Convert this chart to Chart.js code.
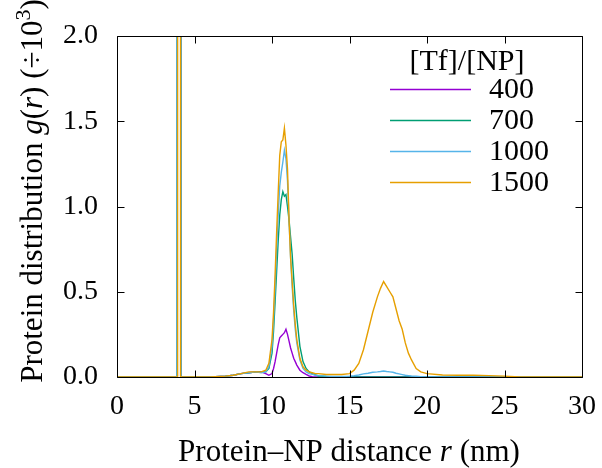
<!DOCTYPE html>
<html>
<head>
<meta charset="utf-8">
<script src="https://cdn.jsdelivr.net/npm/chart.js@4"></script>
<style>
  html, body { margin: 0; padding: 0; background: #fff; }
  #wrap { width: 602px; height: 468px; }
</style>
</head>
<body>
<div id="wrap"><canvas id="c" width="602" height="468"></canvas></div>
<script>
// Protein-NP distance r (nm), shared by all series
const rVals = [0, 3.85, 3.86, 3.9, 3.91, 4.07, 4.08, 4.12, 4.13, 5, 6, 7, 7.5, 8, 8.5, 9, 9.3, 9.6, 9.8,
  10.0, 10.1, 10.2, 10.3, 10.4, 10.5, 10.6, 10.7, 10.8, 10.9, 11.0, 11.1, 11.2, 11.3,
  11.4, 11.5, 11.6, 11.8, 12.0, 12.2, 12.4, 12.6, 12.8, 13, 13.5, 14, 14.5, 15, 15.3,
  15.6, 15.9, 16.2, 16.5, 16.8, 17.0, 17.2, 17.4, 17.6, 17.8, 18.0, 18.2, 18.4, 18.6,
  18.8, 19.0, 19.3, 19.6, 20, 21, 22, 23, 24, 25, 26, 28, 30];

// g(r) / 1000 for each [Tf]/[NP] ratio (spike near 4 nm runs off the top)
const g400 = [0, 0, 60, 60, 60, 60, 60, 60, 0, 0, 0, 0.005, 0.01, 0.02, 0.025, 0.03, 0.03, 0.02, 0.01,
  0.02, 0.05, 0.09, 0.14, 0.19, 0.23, 0.24, 0.25, 0.26, 0.28, 0.25, 0.21, 0.17, 0.14,
  0.11, 0.09, 0.07, 0.04, 0.025, 0.015, 0.006, 0.002, 0, 0, 0, 0, 0, 0, 0,
  0, 0, 0, 0, 0, 0, 0, 0, 0, 0, 0, 0, 0, 0,
  0, 0, 0, 0, 0, 0, 0, 0, 0, 0, 0, 0, 0];
const g700 = [0, 0, 60, 60, 60, 60, 60, 60, 0, 0, 0, 0.005, 0.01, 0.02, 0.025, 0.03, 0.03, 0.03, 0.05,
  0.14, 0.27, 0.44, 0.62, 0.8, 0.95, 1.04, 1.087, 1.06, 1.07, 1.0, 0.92, 0.82, 0.72,
  0.58, 0.45, 0.35, 0.18, 0.09, 0.05, 0.03, 0.02, 0.012, 0.006, 0.003, 0.002, 0, 0, 0,
  0, 0, 0, 0, 0, 0, 0, 0, 0, 0, 0, 0, 0, 0,
  0, 0, 0, 0, 0, 0, 0, 0, 0, 0, 0, 0, 0];
const g1000 = [0, 0, 60, 60, 60, 60, 60, 60, 0, 0, 0, 0.005, 0.01, 0.02, 0.025, 0.03, 0.025, 0.03, 0.06,
  0.18, 0.33, 0.52, 0.75, 0.95, 1.12, 1.2, 1.26, 1.33, 1.28, 1.15, 0.92, 0.7, 0.53,
  0.39, 0.28, 0.2, 0.1, 0.05, 0.03, 0.02, 0.015, 0.01, 0.008, 0.005, 0.003, 0.003, 0.005, 0.008,
  0.012, 0.018, 0.022, 0.028, 0.03, 0.032, 0.035, 0.032, 0.03, 0.028, 0.022, 0.018, 0.014, 0.01,
  0.008, 0.006, 0.004, 0.002, 0, 0, 0, 0, 0, 0, 0, 0, 0];
const g1500 = [0, 0, 0, 0, 60, 60, 0, 0, 0, 0, 0, 0.005, 0.01, 0.02, 0.03, 0.03, 0.03, 0.04, 0.08,
  0.22, 0.38, 0.6, 0.85, 1.08, 1.3, 1.38, 1.39, 1.46, 1.36, 1.22, 0.92, 0.7, 0.56,
  0.42, 0.31, 0.22, 0.11, 0.06, 0.04, 0.03, 0.025, 0.02, 0.02, 0.015, 0.015, 0.015, 0.02, 0.04,
  0.08, 0.16, 0.27, 0.38, 0.47, 0.52, 0.56, 0.53, 0.5, 0.47, 0.4, 0.33, 0.28, 0.2,
  0.14, 0.1, 0.05, 0.03, 0.02, 0.012, 0.01, 0.01, 0.008, 0.005, 0, 0, 0];

const seriesLabels = ["400", "700", "1000", "1500"];
const seriesValues = [g400, g700, g1000, g1500];
const seriesColors = ["#9400d3", "#009e73", "#56b4e9", "#e69f00"];
const xTicks = [0, 5, 10, 15, 20, 25, 30];
const yTicks = [0, 0.5, 1.0, 1.5, 2.0];

const FONT = "Liberation Serif, Times New Roman, serif";
const TICK_FS = 28;
const TITLE_FS = 31;
const LEG_FS = 30;

// text runs: [text, style] with style "", "i" or "sup"
function fontFor(s, fs) {
  if (s === "i") return "italic " + fs + "px " + FONT;
  if (s === "sup") return Math.round(fs * 0.7) + "px " + FONT;
  return fs + "px " + FONT;
}
function richWidth(ctx, parts, fs) {
  let w = 0;
  for (const [t, s] of parts) {
    ctx.font = fontFor(s, fs);
    w += ctx.measureText(t).width;
  }
  return w;
}
function drawRich(ctx, parts, x, y, fs) {
  let cx = x;
  for (const [t, s] of parts) {
    ctx.font = fontFor(s, fs);
    ctx.fillText(t, cx, s === "sup" ? y - fs * 0.4 : y);
    cx += ctx.measureText(t).width;
  }
}

const decorPlugin = {
  id: "decor",
  afterDatasetsDraw(chart) {
    const { ctx, chartArea: a, scales: { x, y } } = chart;
    ctx.save();
    ctx.strokeStyle = "#000";
    ctx.lineWidth = 1;
    const L = Math.round(a.left) + 0.5, R = Math.round(a.right) + 0.5;
    const T = Math.round(a.top) + 0.5, B = Math.round(a.bottom) + 0.5;
    ctx.beginPath();
    ctx.rect(L, T, R - L, B - T);
    const tl = 7;
    for (const v of xTicks) {
      const px = Math.round(x.getPixelForValue(v)) + 0.5;
      ctx.moveTo(px, B); ctx.lineTo(px, B - tl);
      ctx.moveTo(px, T); ctx.lineTo(px, T + tl);
    }
    for (const v of yTicks) {
      const py = Math.round(y.getPixelForValue(v)) + 0.5;
      ctx.moveTo(L, py); ctx.lineTo(L + tl, py);
      ctx.moveTo(R, py); ctx.lineTo(R - tl, py);
    }
    ctx.stroke();

    // legend
    ctx.fillStyle = "#000";
    ctx.font = LEG_FS + "px " + FONT;
    ctx.textAlign = "center";
    ctx.textBaseline = "alphabetic";
    ctx.fillText("[Tf]/[NP]", 467, 70);
    ctx.textAlign = "left";
    ctx.textBaseline = "middle";
    chart.data.datasets.forEach((ds, i) => {
      const ly = 89 + i * 31;
      ctx.strokeStyle = ds.borderColor;
      ctx.lineWidth = 1.4;
      ctx.beginPath();
      ctx.moveTo(390, ly + 0.5); ctx.lineTo(471, ly + 0.5);
      ctx.stroke();
      ctx.fillText(ds.label, 489, ly + 1);
    });

    // axis titles
    ctx.textAlign = "left";
    ctx.textBaseline = "alphabetic";
    const xParts = [["Protein\u2013NP distance ", ""], ["r", "i"], [" (nm)", ""]];
    const xw = richWidth(ctx, xParts, TITLE_FS);
    drawRich(ctx, xParts, 349 - xw / 2, 461, TITLE_FS);

    const yParts = [["Protein distribution ", ""], ["g", "i"], ["(", ""], ["r", "i"],
      [") (\u00f710", ""], ["3", "sup"], [")", ""]];
    const yw = richWidth(ctx, yParts, TITLE_FS);
    ctx.translate(42, 191);
    ctx.rotate(-Math.PI / 2);
    drawRich(ctx, yParts, -yw / 2, 0, TITLE_FS);
    ctx.restore();
  }
};

const datasets = seriesLabels.map((label, i) => ({
  label: label,
  data: rVals.map((r, k) => ({ x: r, y: seriesValues[i][k] })),
  borderColor: seriesColors[i],
  backgroundColor: seriesColors[i],
  borderWidth: 1.4,
  pointRadius: 0,
  tension: 0,
  fill: false,
  order: seriesLabels.length - i
}));

new Chart(document.getElementById("c"), {
  type: "line",
  data: { datasets: datasets },
  options: {
    responsive: false,
    animation: false,
    events: [],
    layout: { padding: { left: 0, right: 20, top: 36, bottom: 0 } },
    plugins: { legend: { display: false }, tooltip: { enabled: false } },
    scales: {
      x: {
        type: "linear",
        min: 0, max: 30,
        afterFit: s => { s.height = 91; s.paddingLeft = 0; s.paddingRight = 0; },
        afterBuildTicks: s => { s.ticks = xTicks.map(v => ({ value: v })); },
        grid: { display: false, drawTicks: false },
        border: { display: false },
        ticks: { color: "#000", font: { family: FONT, size: TICK_FS }, padding: 13, maxRotation: 0 }
      },
      y: {
        type: "linear",
        min: 0, max: 2,
        afterFit: s => { s.width = 117; s.paddingTop = 0; s.paddingBottom = 0; },
        afterBuildTicks: s => { s.ticks = yTicks.map(v => ({ value: v })); },
        grid: { display: false, drawTicks: false },
        border: { display: false },
        ticks: { color: "#000", font: { family: FONT, size: TICK_FS }, padding: 19,
          callback: v => Number(v).toFixed(1) }
      }
    }
  },
  plugins: [decorPlugin]
});
</script>
</body>
</html>
